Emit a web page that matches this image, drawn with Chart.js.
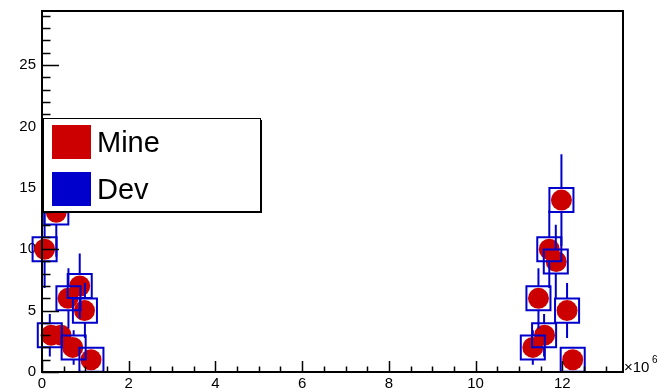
<!DOCTYPE html>
<html>
<head>
<meta charset="utf-8">
<script src="https://cdn.jsdelivr.net/npm/chart.js@4"></script>
<style>body{margin:0;background:#fff}</style>
</head>
<body>
<canvas id="c" width="661" height="392"></canvas>
<script>
// tick labels
const xTicks = [0, 2e6, 4e6, 6e6, 8e6, 10e6, 12e6];
const yTicks = [0, 5, 10, 15, 20, 25];

// "Mine" histogram (red circles)
const mineX = [0.06e6, 0.33e6, 0.21e6, 0.44e6, 0.60e6, 0.87e6, 0.98e6, 0.71e6, 1.13e6,
               11.32e6, 11.45e6, 11.59e6, 11.70e6, 11.86e6, 11.98e6, 12.11e6, 12.24e6];
const mineY = [10, 13, 3, 3, 6, 7, 5, 2, 1,
               2, 6, 3, 10, 9, 14, 5, 1];

// "Dev" histogram (blue open squares with errors)
const devX = [0.06e6, 0.33e6, 0.18e6, 0.61e6, 0.87e6, 0.99e6, 0.73e6, 1.14e6,
              11.32e6, 11.45e6, 11.58e6, 11.70e6, 11.85e6, 11.98e6, 12.11e6, 12.24e6];
const devY = [10, 13, 3, 6, 7, 5, 2, 1,
              2, 6, 3, 10, 9, 14, 5, 1];
const devErr = [3.16, 3.61, 1.73, 2.45, 2.65, 2.24, 1.41, 1.0,
                1.41, 2.45, 1.73, 3.16, 3.0, 3.74, 2.24, 1.0];

const RED = "#cc0000";
const BLUE = "#0000cc";
const FONT = "'Liberation Sans', Arial, sans-serif";

const rootStyle = {
    id: "rootStyle",
    afterDatasetsDraw(chart) {
        const ctx = chart.ctx;
        const xs = chart.scales.x, ys = chart.scales.y;
        const a = chart.chartArea;
        // error bars of Dev, gap for the marker
        ctx.save();
        ctx.strokeStyle = BLUE;
        ctx.lineWidth = 2;
        const half = 12;
        devX.forEach((x, i) => {
            const px = xs.getPixelForValue(x);
            const py = ys.getPixelForValue(devY[i]);
            const top = Math.max(ys.getPixelForValue(devY[i] + devErr[i]), a.top);
            const bot = Math.min(ys.getPixelForValue(devY[i] - devErr[i]), a.bottom);
            ctx.beginPath();
            if (top < py - half) { ctx.moveTo(px, top); ctx.lineTo(px, py - half); }
            if (bot > py + half) { ctx.moveTo(px, py + half); ctx.lineTo(px, bot); }
            ctx.stroke();
        });
        ctx.restore();
    },
    afterDraw(chart) {
        const ctx = chart.ctx;
        const xs = chart.scales.x, ys = chart.scales.y;
        const a = chart.chartArea;
        ctx.save();
        // frame
        ctx.strokeStyle = "#000";
        ctx.lineWidth = 2;
        ctx.strokeRect(a.left, a.top, a.right - a.left, a.bottom - a.top);
        // inward ticks
        ctx.lineWidth = 1.5;
        ctx.beginPath();
        for (let v = 0; v <= ys.max; v += 1) {
            const py = Math.round(ys.getPixelForValue(v)) + 0.5;
            const len = v % 5 === 0 ? 17 : 8.5;
            ctx.moveTo(a.left, py); ctx.lineTo(a.left + len, py);
        }
        for (let v = 0; v <= xs.max; v += 0.5e6) {
            const px = Math.round(xs.getPixelForValue(v)) + 0.5;
            const len = v % 2e6 === 0 ? 11 : 5.5;
            ctx.moveTo(px, a.bottom); ctx.lineTo(px, a.bottom - len);
        }
        ctx.stroke();
        // exponent
        ctx.fillStyle = "#000";
        ctx.font = "15px " + FONT;
        ctx.textBaseline = "alphabetic";
        ctx.fillText("\u00d710", a.right + 1, a.bottom);
        ctx.font = "10px " + FONT;
        ctx.fillText("6", a.right + 29, a.bottom - 9);
        // legend
        const lx = 43, ly = 118, lw = 217, lh = 93;
        ctx.fillStyle = "#fff";
        ctx.fillRect(lx, ly, lw, lh);
        ctx.lineWidth = 1;
        ctx.strokeStyle = "#000";
        ctx.strokeRect(lx + 0.5, ly + 0.5, lw, lh);
        ctx.lineWidth = 2;
        ctx.beginPath();
        ctx.moveTo(lx + lw + 1, ly + 2); ctx.lineTo(lx + lw + 1, ly + lh + 1); ctx.lineTo(lx + 2, ly + lh + 1);
        ctx.stroke();
        ctx.font = "29px " + FONT;
        chart.data.datasets.slice().sort((p, q) => p.legendRank - q.legendRank).forEach((ds, i) => {
            const y0 = 125 + i * 47;
            ctx.fillStyle = ds.swatch;
            ctx.fillRect(52, y0, 39, 34);
            ctx.fillStyle = "#000";
            ctx.fillText(ds.label, 97, y0 + 27);
        });
        ctx.restore();
    }
};

new Chart(document.getElementById("c"), {
    type: "scatter",
    data: {
        datasets: [
            {
                label: "Dev",
                legendRank: 1,
                swatch: BLUE,
                order: 0,
                data: devX.map((x, i) => ({ x: x, y: devY[i] })),
                pointStyle: "rect",
                pointRadius: 17,
                pointHoverRadius: 17,
                backgroundColor: "rgba(0,0,0,0)",
                borderColor: BLUE,
                pointBorderWidth: 2,
                clip: false
            },
            {
                label: "Mine",
                legendRank: 0,
                swatch: RED,
                order: 1,
                data: mineX.map((x, i) => ({ x: x, y: mineY[i] })),
                pointStyle: "circle",
                pointRadius: 10.5,
                pointHoverRadius: 10.5,
                backgroundColor: RED,
                borderColor: RED,
                pointBorderWidth: 0,
                clip: false
            }
        ]
    },
    options: {
        responsive: false,
        devicePixelRatio: 1,
        animation: false,
        events: [],
        layout: { autoPadding: false, padding: { left: 0, top: 11, right: 38, bottom: 0 } },
        plugins: { legend: { display: false }, tooltip: { enabled: false } },
        scales: {
            x: {
                type: "linear",
                min: 0,
                max: 13.4e6,
                afterBuildTicks: s => { s.ticks = xTicks.map(v => ({ value: v })); },
                afterFit: s => { s.height = 20; s.paddingLeft = 0; s.paddingRight = 0; s.paddingTop = 0; s.paddingBottom = 0; },
                grid: { display: false, drawTicks: false, tickLength: 0 },
                border: { display: false },
                ticks: {
                    autoSkip: false,
                    maxRotation: 0,
                    padding: 3,
                    color: "#000",
                    font: { family: FONT, size: 15 },
                    callback: v => String(v / 1e6)
                }
            },
            y: {
                type: "linear",
                min: 0,
                max: 29.4,
                afterBuildTicks: s => { s.ticks = yTicks.map(v => ({ value: v })); },
                afterFit: s => { s.width = 42; s.paddingLeft = 0; s.paddingRight = 0; s.paddingTop = 0; s.paddingBottom = 0; },
                grid: { display: false, drawTicks: false, tickLength: 0 },
                border: { display: false },
                ticks: {
                    autoSkip: false,
                    padding: 6,
                    color: "#000",
                    font: { family: FONT, size: 15 }
                }
            }
        }
    },
    plugins: [rootStyle]
});
</script>
</body>
</html>
